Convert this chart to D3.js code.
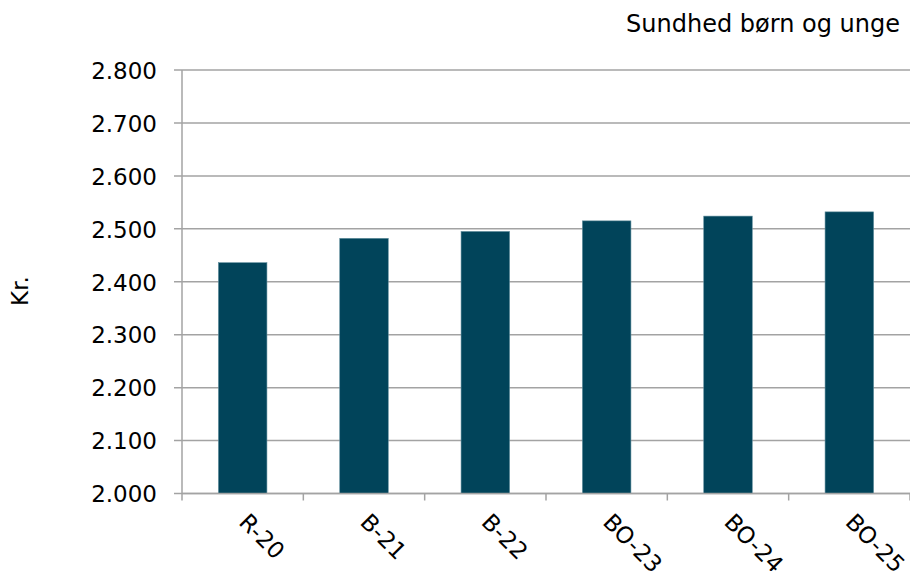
<!DOCTYPE html>
<html>
<head>
<meta charset="utf-8">
<script src="https://cdn.jsdelivr.net/npm/d3@7"></script>
<style>
  body { margin: 0; background: #fff; }
  text { font-family: "DejaVu Sans", Verdana, sans-serif; fill: #000; }
</style>
</head>
<body>
<div id="chart"></div>
<script>
// Sundhed boern og unge - kr.

var categories = ["R-20", "B-21", "B-22", "BO-23", "BO-24", "BO-25"];
var values = [2436, 2482, 2495, 2515, 2524, 2532];
var yTicks = [2000, 2100, 2200, 2300, 2400, 2500, 2600, 2700, 2800];

var svgWidth = 910;
var svgHeight = 571;

var margin = { top: 70, right: 0, bottom: 77.5, left: 182 };
var width = svgWidth - margin.left - margin.right;
var height = svgHeight - margin.top - margin.bottom;

var svg = d3.select("#chart")
  .append("svg")
  .attr("width", svgWidth)
  .attr("height", svgHeight);

var chartGroup = svg.append("g")
  .attr("transform", `translate(${margin.left}, ${margin.top})`);

var da = d3.formatLocale({ decimal: ",", thousands: ".", grouping: [3], currency: ["", " kr."] });
var fmt = da.format(",.0f");

var x = d3.scaleBand()
  .domain(categories)
  .range([0, width])
  .paddingInner(0.6)
  .paddingOuter(0.3);

var y = d3.scaleLinear()
  .domain([2000, 2800])
  .range([height, 0]);

// gridlines
chartGroup.append("g")
  .selectAll("line")
  .data(yTicks)
  .enter()
  .append("line")
  .attr("x1", -8)
  .attr("x2", width)
  .attr("y1", d => y(d))
  .attr("y2", d => y(d))
  .attr("stroke", "#a3a3a3")
  .attr("stroke-width", 1.5);

// y axis
var leftAxis = d3.axisLeft(y).tickValues(yTicks).tickFormat(fmt).tickSize(0).tickPadding(25);
var yAxis = chartGroup.append("g").call(leftAxis);
yAxis.select(".domain").remove();
yAxis.selectAll("text")
  .style("font-size", "23px")
  .style("font-family", "DejaVu Sans, sans-serif")
  .attr("dy", "0.36em");

chartGroup.append("line")
  .attr("x1", 0).attr("x2", 0)
  .attr("y1", 0).attr("y2", height)
  .attr("stroke", "#a3a3a3")
  .attr("stroke-width", 1.5);

// bars
chartGroup.selectAll("rect")
  .data(values)
  .enter()
  .append("rect")
  .attr("x", (d, i) => x(categories[i]))
  .attr("y", d => y(d))
  .attr("width", x.bandwidth())
  .attr("height", d => height - y(d))
  .attr("fill", "#01445a")
  .attr("stroke", "#5f8d9c")
  .attr("stroke-width", 0.6);

// x axis line + ticks at category boundaries
var step = x.step();
var bounds = d3.range(categories.length + 1).map(i => i * step);
chartGroup.append("line")
  .attr("x1", 0).attr("x2", width)
  .attr("y1", height).attr("y2", height)
  .attr("stroke", "#a3a3a3")
  .attr("stroke-width", 1.5);
chartGroup.append("g")
  .selectAll("line")
  .data(bounds)
  .enter()
  .append("line")
  .attr("x1", d => d).attr("x2", d => d)
  .attr("y1", height).attr("y2", height + 7)
  .attr("stroke", "#a3a3a3")
  .attr("stroke-width", 1.5);

// rotated category labels
chartGroup.append("g")
  .selectAll("text")
  .data(categories)
  .enter()
  .append("text")
  .attr("transform", d => `translate(${x(d) + x.bandwidth() / 2 - 5}, ${height + 30}) rotate(45)`)
  .style("font-size", "23px")
  .text(d => d);

// y label
svg.append("text")
  .attr("transform", "translate(28, 291) rotate(-90)")
  .attr("text-anchor", "middle")
  .style("font-size", "23px")
  .text("Kr.");

// title
svg.append("text")
  .attr("x", 900)
  .attr("y", 31.5)
  .attr("text-anchor", "end")
  .style("font-size", "24px")
  .text("Sundhed børn og unge");
</script>
</body>
</html>
